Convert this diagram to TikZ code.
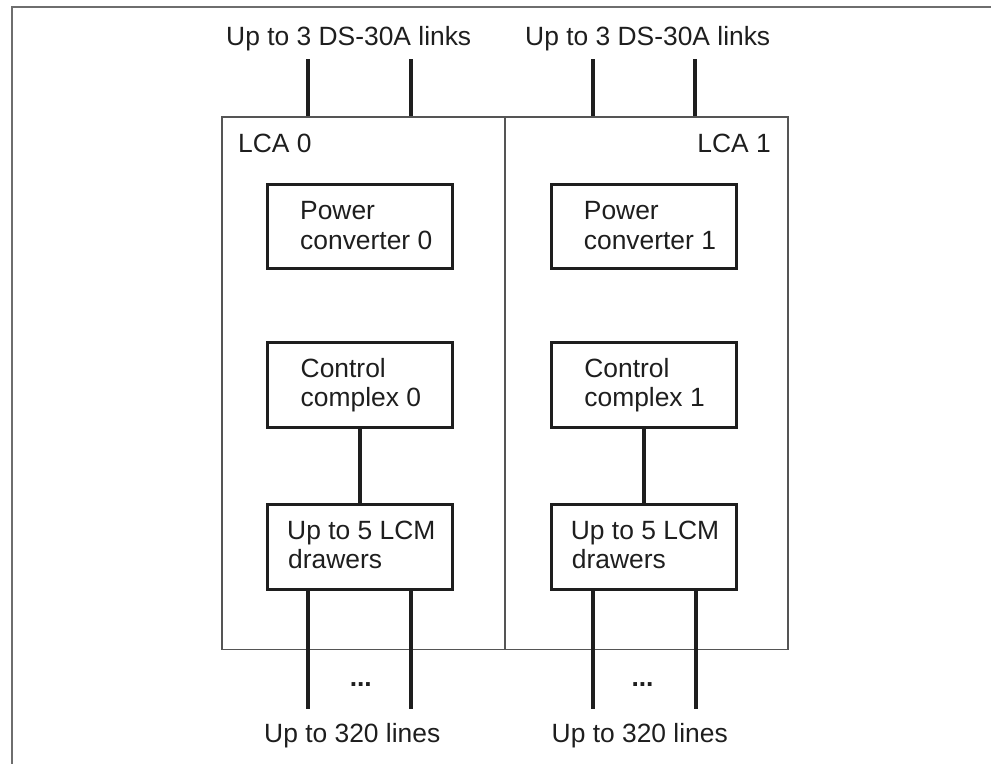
\documentclass[tikz,border=0pt]{standalone}
\usepackage{fontspec}
\setmainfont{Liberation Sans}
\begin{document}
\begin{tikzpicture}[x=1pt,y=-1pt,
  txt/.style={inner sep=0pt, text=textc, font=\fontsize{26.4}{30}\selectfont},
  box/.style={draw=boxc, line width=3pt, minimum width=185pt, minimum height=84.5pt, inner sep=0pt},
  lca/.style={draw=lcac, line width=1.6pt, minimum height=532.3pt, inner sep=0pt},
  wire/.style={draw=boxc, line width=4pt},
  bwire/.style={draw=boxc, line width=3.7pt}]
\definecolor{textc}{RGB}{30,30,30}
\definecolor{boxc}{RGB}{30,30,30}
\definecolor{lcac}{RGB}{85,85,85}
\definecolor{framec}{RGB}{110,110,110}
\useasboundingbox (0,0) rectangle (991,764);
% outer frame (top and left only)
\coordinate (fTR) at (991,6.5);
\coordinate (fTL) at (12,6.5);
\coordinate (fBL) at (12,764);
\draw[framec, line width=2pt] (fTR) -- (fTL) -- (fBL);
% LCA halves
\node[lca, minimum width=283.3pt] (lca0) at (363.35,383.15) {};
\node[lca, minimum width=282.7pt] (lca1) at (646.35,383.15) {};
\node[txt, anchor=base west] (lca0t) at (238,152) {LCA 0};
\node[txt, anchor=base east] (lca1t) at (771,152) {LCA 1};
% boxes
\node[box] (pc0) at (359.8,226.7) {};
\node[box] (cc0) at (359.8,384.9) {};
\node[box] (dr0) at (359.8,547.2) {};
\node[box] (pc1) at (644,226.7) {};
\node[box] (cc1) at (644,384.9) {};
\node[box] (dr1) at (644,547.2) {};
% box texts
\node[txt, anchor=base west] (pc0a) at (300,219) {Power};
\node[txt, anchor=base west] (pc0b) at (300,249) {converter 0};
\node[txt, anchor=base west] (cc0a) at (300.5,377.3) {Control};
\node[txt, anchor=base west] (cc0b) at (300.5,406.7) {complex 0};
\node[txt, anchor=base west] (dr0a) at (287,539) {Up to 5 LCM};
\node[txt, anchor=base west] (dr0b) at (288,568) {drawers};
\node[txt, anchor=base west] (pc1a) at (583.7,219) {Power};
\node[txt, anchor=base west] (pc1b) at (583.7,249) {converter 1};
\node[txt, anchor=base west] (cc1a) at (584.2,377.3) {Control};
\node[txt, anchor=base west] (cc1b) at (584.2,406.7) {complex 1};
\node[txt, anchor=base west] (dr1a) at (570.7,539) {Up to 5 LCM};
\node[txt, anchor=base west] (dr1b) at (571.7,568) {drawers};
% top labels and links
\node[txt, anchor=base west] (top0) at (226,45) {Up to 3 DS-30A links};
\node[txt, anchor=base west] (top1) at (525,45) {Up to 3 DS-30A links};
\coordinate (l0a) at (308.3,59.3);
\coordinate (l0b) at (411,59.3);
\coordinate (l1a) at (592.7,59.3);
\coordinate (l1b) at (695.3,59.3);
\draw[wire] (l0a) -- (l0a |- lca0.north);
\draw[wire] (l0b) -- (l0b |- lca0.north);
\draw[wire] (l1a) -- (l1a |- lca1.north);
\draw[wire] (l1b) -- (l1b |- lca1.north);
% control to drawers
\draw[wire] (cc0.south) -- (dr0.north);
\draw[wire] (cc1.south) -- (dr1.north);
% bottom lines
\coordinate (b0a) at (308.3,709);
\coordinate (b0b) at (410.7,709);
\coordinate (b1a) at (592.7,709);
\coordinate (b1b) at (695.7,709);
\draw[bwire] (b0a |- dr0.south) -- (b0a);
\draw[bwire] (b0b |- dr0.south) -- (b0b);
\draw[bwire] (b1a |- dr1.south) -- (b1a);
\draw[bwire] (b1b |- dr1.south) -- (b1b);
\node[txt, anchor=base, font=\fontsize{26.4}{30}\selectfont\bfseries] (dots0) at (360.8,686) {...};
\node[txt, anchor=base, font=\fontsize{26.4}{30}\selectfont\bfseries] (dots1) at (642.5,686) {...};
\node[txt, anchor=base west] (bot0) at (264,742.7) {Up to 320 lines};
\node[txt, anchor=base west] (bot1) at (551.5,742.7) {Up to 320 lines};
\end{tikzpicture}
\end{document}
